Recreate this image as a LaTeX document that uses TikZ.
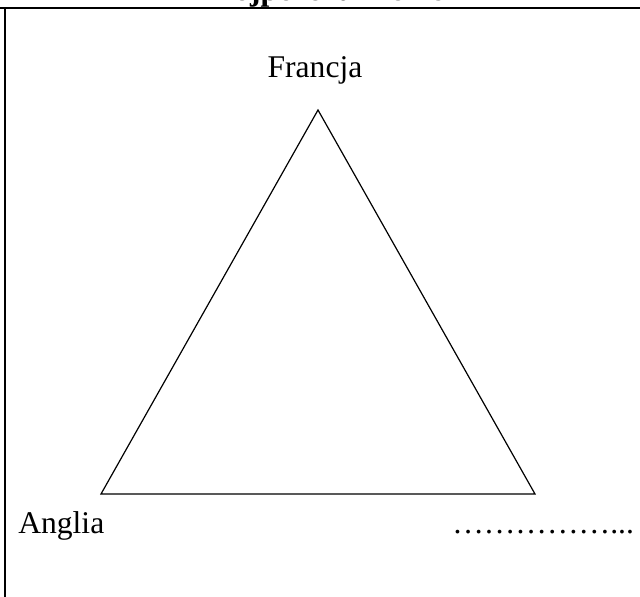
\documentclass[tikz,border=0pt]{standalone}
\usepackage{fontspec}
\setmainfont{Liberation Serif}
\usepackage{tikz}
\usetikzlibrary{positioning}

\begin{document}
\begin{tikzpicture}[x=0.75pt, y=0.75pt,
    country/.style={font=\fontsize{23.7}{28}\selectfont, inner sep=0pt},
    heading/.style={font=\fontsize{23.7}{28}\selectfont\bfseries, inner sep=0pt},
    frameline/.style={line width=1.6pt},
    triline/.style={line width=0.9pt, line join=miter}]
        \useasboundingbox (0,0) rectangle (640,597);
        \clip (0,0) rectangle (640,597);
        % heading, cut off by the page
        \node[heading, anchor=base] (title) at (323,596.3) {Trójporozumienie};
        % frame
        \coordinate (frameTL) at (5,589);
        \coordinate (frameTR) at (640,589);
        \coordinate (frameBL) at (5,0);
        \draw[frameline] (0,589) -- (frameTR);
        \draw[frameline] (frameTL) -- (frameBL);
        % triangle
        \coordinate (top) at (318,487);
        \coordinate (left) at (101,103);
        \coordinate (right) at (535,103);
        \draw[triline] (top) -- (left) -- (right) -- cycle;
        % countries
        \node[country, anchor=base] (francja) at (315,519) {Francja};
        \node[country, anchor=base west] (anglia) at (18,63) {Anglia};
        \node[country, anchor=base west] (blank) at (452,63) {……………...};
      \end{tikzpicture}
\end{document}
